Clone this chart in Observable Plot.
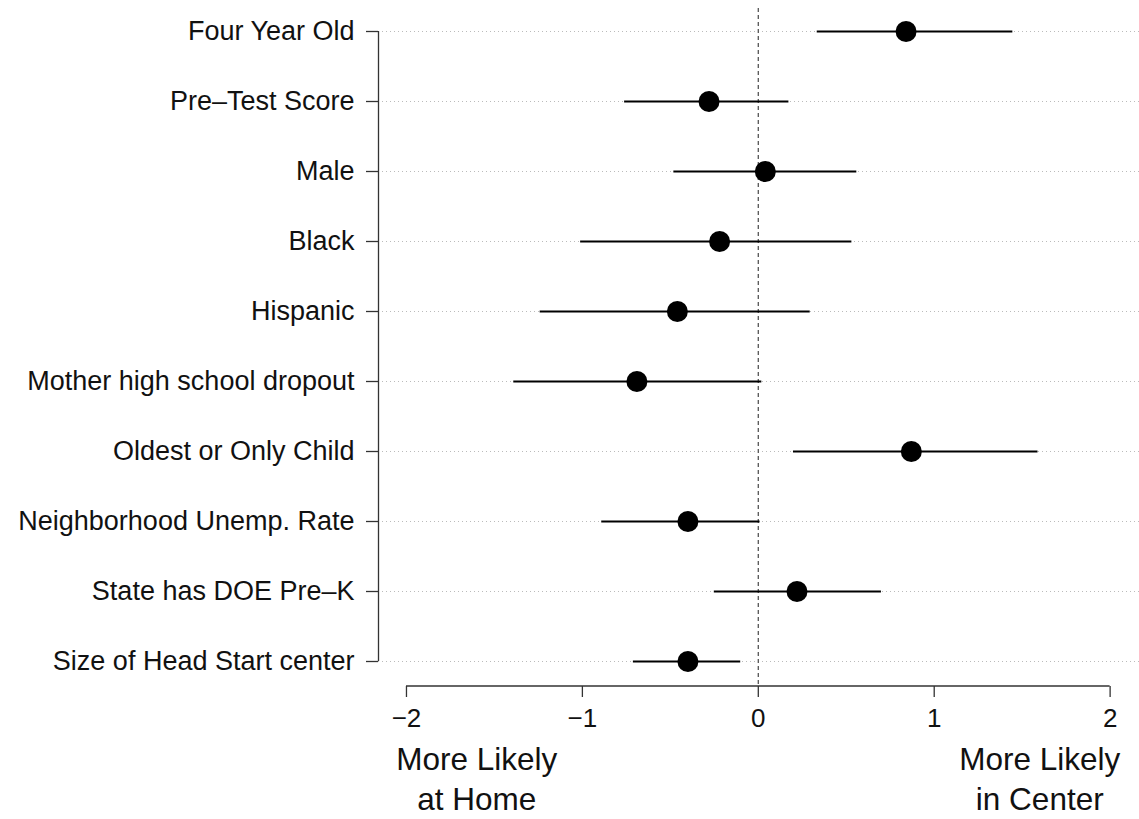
<!DOCTYPE html>
<html><head><meta charset="utf-8">
<script src="https://cdn.jsdelivr.net/npm/d3@7"></script>
<script src="https://cdn.jsdelivr.net/npm/@observablehq/plot@0.6"></script>
<style>body{margin:0;background:#fff} svg{display:block}</style>
</head><body><div id="chart"></div>
<script>
const categories = ["Four Year Old","Pre\u2013Test Score","Male","Black","Hispanic","Mother high school dropout","Oldest or Only Child","Neighborhood Unemp. Rate","State has DOE Pre\u2013K","Size of Head Start center"];
const estimates = [0.84,-0.28,0.04,-0.22,-0.46,-0.69,0.87,-0.40,0.22,-0.40];
const lower = [0.335,-0.76,-0.48,-1.01,-1.24,-1.39,0.20,-0.89,-0.25,-0.71];
const upper = [1.447,0.174,0.56,0.532,0.295,0.02,1.59,0.01,0.70,-0.10];
const xTicks = [-2,-1,0,1,2];
const xTickLabels = ["\u22122","\u22121","0","1","2"];
const notes = ["More Likely\nat Home","More Likely\nin Center"];
const notePositions = [-1.6,1.6];

const rows = categories.map((c,i)=>({label:c, est:estimates[i], lo:lower[i], hi:upper[i]}));
const noteRows = notes.map((t,i)=>({text:t, x:notePositions[i]}));
const xDomain = [-2.159, 2.167];

const plot = Plot.plot({
  width:1139, height:819,
  marginLeft:378, marginRight:0, marginTop:8, marginBottom:133,
  style:{fontFamily:"'Liberation Sans', Arial, sans-serif", background:"#fff", color:"#111"},
  x:{domain:xDomain},
  y:{type:"point", domain:categories, range:[30.7,661], padding:0},
  marks:[
    Plot.gridY({stroke:"#bbb", strokeOpacity:1, strokeDasharray:"1,3"}),
    Plot.ruleX([0],{stroke:"#555", strokeDasharray:"4,3", strokeWidth:1.3}),
    Plot.ruleX([xDomain[0]], {y1:()=>categories[0], y2:()=>categories[categories.length-1], stroke:"#333", strokeWidth:1.3}),
    Plot.axisY({tickSize:12, tickPadding:12, fontSize:27, label:null, stroke:"#333", strokeWidth:1.3}),
    Plot.axisX({ticks:xTicks, tickFormat:d=>xTickLabels[xTicks.indexOf(d)], tickSize:11, tickPadding:11, fontSize:26, label:null, stroke:"#333", strokeWidth:1.3}),
    Plot.ruleY(rows,{y:"label", x1:"lo", x2:"hi", stroke:"#000", strokeWidth:2}),
    Plot.dot(rows,{x:"est", y:"label", r:10.5, fill:"#000", stroke:null}),
    Plot.text(noteRows,{x:"x", text:"text", frameAnchor:"bottom", lineAnchor:"top", dy:55, fontSize:31.5, lineHeight:1.27, fill:"#111"})
  ]
});

const xs = plot.scale("x");
const yBottom = 819 - 133;
d3.select(plot).append("line")
  .attr("x1", xs.apply(xTicks[0])).attr("x2", xs.apply(xTicks[xTicks.length-1]))
  .attr("y1", yBottom).attr("y2", yBottom)
  .attr("stroke","#333").attr("stroke-width",1.3);
document.getElementById("chart").append(plot);
</script>
</body></html>
